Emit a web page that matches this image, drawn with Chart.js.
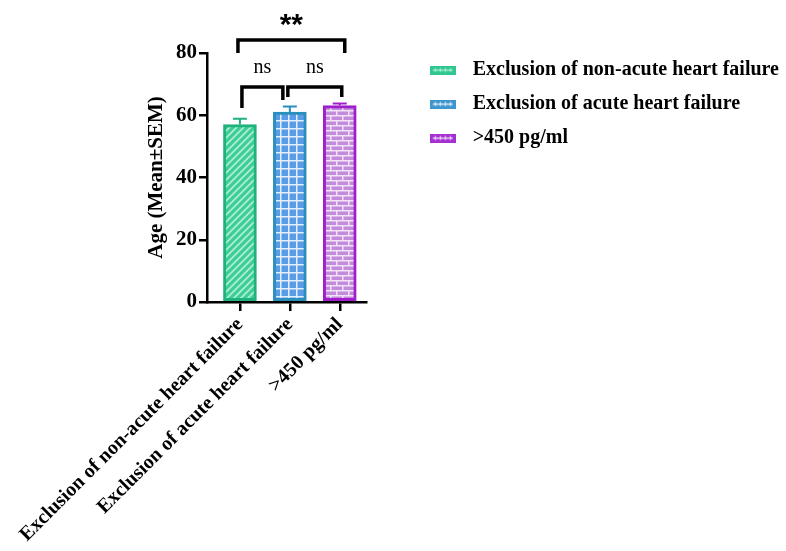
<!DOCTYPE html>
<html><head><meta charset="utf-8">
<script src="https://cdn.jsdelivr.net/npm/chart.js@4.4.1/dist/chart.umd.min.js"></script>
<style>html,body{margin:0;padding:0;background:#fff;}#wrap{width:786px;height:551px;}</style>
</head><body><div id="wrap"><canvas id="c" width="786" height="551"></canvas></div>
<script>
// ---- data ----
const categories = ['Exclusion of non-acute heart failure', 'Exclusion of acute heart failure', '>450 pg/ml'];
const means = [57.0, 61.0, 63.1];
const sems = [1.9, 1.8, 0.7];
const yTicks = [0, 20, 40, 60, 80];
// significance brackets (x in category units, y in axis units)
const bracketLabels = ['ns', 'ns', '**'];
const bracketFrom = [0.04, 0.96, -0.04];
const bracketTo = [0.86, 2.04, 2.1];
const bracketLevel = [69.1, 69.1, 84.2];
const bracketLegFrom = [62.3, 65.9, 80.0];
const bracketLegTo = [64.9, 65.9, 80.0];

// ---- styles ----
const FONT = 'Liberation Serif';
const borderColors = ['#1fb27d', '#2b8fbc', '#a11fcb'];
function makePattern(kind) {
  const c = document.createElement('canvas');
  const x = c.getContext('2d');
  if (kind === 0) {
    c.width = 7; c.height = 7;
    x.fillStyle = '#3fcd96'; x.fillRect(0, 0, 7, 7);
    x.strokeStyle = '#a8efd3'; x.lineWidth = 1.8;
    x.beginPath();
    x.moveTo(-1, 8); x.lineTo(8, -1);
    x.moveTo(-1, 1); x.lineTo(1, -1);
    x.moveTo(6, 8); x.lineTo(8, 6);
    x.stroke();
  } else if (kind === 1) {
    c.width = 8; c.height = 8;
    x.fillStyle = '#5b9ce8'; x.fillRect(0, 0, 8, 8);
    x.fillStyle = '#e4effc';
    x.fillRect(0, 0, 8, 1.5); x.fillRect(0, 0, 1.5, 8);
  } else {
    c.width = 12; c.height = 10;
    x.fillStyle = '#c28bdb'; x.fillRect(0, 0, 12, 10);
    x.fillStyle = '#f3e3f8';
    x.fillRect(0, 0, 12, 1.5); x.fillRect(0, 5, 12, 1.5);
    x.fillRect(0, 0, 1.5, 5); x.fillRect(6, 5, 1.5, 5);
  }
  return c;
}
const tiles = [0, 1, 2].map(makePattern);
const patCtx = document.createElement('canvas').getContext('2d');
const patterns = tiles.map(t => patCtx.createPattern(t, 'repeat'));
const swatchFill = ['#2fc68f', '#3f95cf', '#a62fd3'];
const swatchLine = ['#a8efd3', '#e4effc', '#eddcf6'];
const swatches = [0, 1, 2].map(i => {
  const c = document.createElement('canvas');
  c.width = 26; c.height = 9;
  const x = c.getContext('2d');
  x.fillStyle = swatchFill[i];
  x.fillRect(0, 0, 26, 9);
  x.fillStyle = swatchLine[i];
  x.fillRect(3, 4, 20, 1.3);
  for (let k = 5; k < 24; k += 5) x.fillRect(k, 2.5, 1.2, 4);
  return c;
});

const overlay = {
  id: 'overlay',
  afterDatasetsDraw(chart) {
    const {ctx, scales: {x, y}} = chart;
    ctx.save();
    // error bars
    means.forEach((m, i) => {
      const px = x.getPixelForValue(i);
      const top = y.getPixelForValue(m + sems[i]);
      const base = y.getPixelForValue(m);
      ctx.strokeStyle = borderColors[i];
      ctx.lineWidth = 2;
      ctx.beginPath();
      ctx.moveTo(px, base); ctx.lineTo(px, top);
      ctx.moveTo(px - 7, top); ctx.lineTo(px + 7, top);
      ctx.stroke();
    });
    // brackets
    ctx.strokeStyle = '#000';
    ctx.fillStyle = '#000';
    ctx.lineWidth = 3.5;
    ctx.lineJoin = 'miter';
    bracketLabels.forEach((lab, i) => {
      const x1 = x.getPixelForValue(bracketFrom[i]);
      const x2 = x.getPixelForValue(bracketTo[i]);
      const yl = y.getPixelForValue(bracketLevel[i]);
      ctx.beginPath();
      ctx.moveTo(x1, y.getPixelForValue(bracketLegFrom[i]));
      ctx.lineTo(x1, yl); ctx.lineTo(x2, yl);
      ctx.lineTo(x2, y.getPixelForValue(bracketLegTo[i]));
      ctx.stroke();
      ctx.textAlign = 'center';
      ctx.textBaseline = 'alphabetic';
      if (lab === '**') {
        ctx.font = 'bold 30px "Liberation Sans"';
        ctx.fillText(lab, (x1 + x2) / 2, yl - 6);
      } else {
        ctx.font = '20px "' + FONT + '"';
        ctx.fillText(lab, (x1 + x2) / 2, yl - 14);
      }
    });
    ctx.restore();
  }
};

const tickFont = {family: FONT, weight: 'bold', size: 20};
new Chart(document.getElementById('c'), {
  type: 'bar',
  data: {
    datasets: categories.map((name, i) => ({
      label: name,
      data: [{x: i, y: means[i]}],
      backgroundColor: patterns[i],
      borderColor: borderColors[i],
      borderWidth: 3,
      borderSkipped: false,
      barThickness: 33,
      grouped: false
    }))
  },
  options: {
    responsive: false,
    animation: false,
    layout: {padding: {top: 46, left: 0, right: -3, bottom: 0}},
    plugins: {
      tooltip: {enabled: false},
      legend: {
        position: 'right', align: 'start', maxWidth: 420,
        labels: {
          usePointStyle: true, pointStyleWidth: 40, padding: 14, color: '#000',
          font: {family: FONT, weight: 'bold', size: 20, lineHeight: 1.2},
          generateLabels(chart) {
            const items = Chart.defaults.plugins.legend.labels.generateLabels(chart);
            items.forEach((it, i) => { it.pointStyle = swatches[i]; });
            return items;
          }
        }
      }
    },
    scales: {
      x: {
        type: 'linear', position: 'bottom', min: -0.66, max: 2.54, offset: false,
        afterBuildTicks(s) { s.ticks = categories.map((_, i) => ({value: i})); },
        afterFit(s) { s.height = 249; s.paddingLeft = 0; s.paddingRight = 0; },
        grid: {display: true, offset: false, drawOnChartArea: false, drawTicks: true, tickLength: 9, color: '#000', lineWidth: 2.5},
        border: {display: true, color: '#000', width: 2.5},
        ticks: {autoSkip: false, minRotation: 45, maxRotation: 45, padding: 2, color: '#000', font: tickFont,
          callback: v => categories[v]}
      },
      xTop: {
        type: 'linear', position: 'top', display: true, offset: false,
        afterFit(s) { s.height = 7; },
        grid: {display: false}, border: {display: false}, ticks: {display: false}
      },
      y: {
        type: 'linear', position: 'left', min: 0, max: 80,
        afterBuildTicks(s) { s.ticks = yTicks.map(v => ({value: v})); },
        afterFit(s) { s.width = 207; },
        grid: {display: true, drawOnChartArea: false, drawTicks: true, tickLength: 8, color: '#000', lineWidth: 2.5},
        border: {display: true, color: '#000', width: 2.5},
        ticks: {padding: 2, color: '#000', font: {family: FONT, weight: 'bold', size: 21}},
        title: {display: true, text: 'Age (Mean±SEM)', color: '#000', padding: {top: 144, bottom: 0},
          font: {family: FONT, weight: 'bold', size: 21}}
      },
      yRight: {
        type: 'linear', position: 'right', display: true,
        afterFit(s) { s.width = 42; },
        grid: {display: false}, border: {display: false}, ticks: {display: false}
      }
    }
  },
  plugins: [overlay]
});
</script>
</body></html>
